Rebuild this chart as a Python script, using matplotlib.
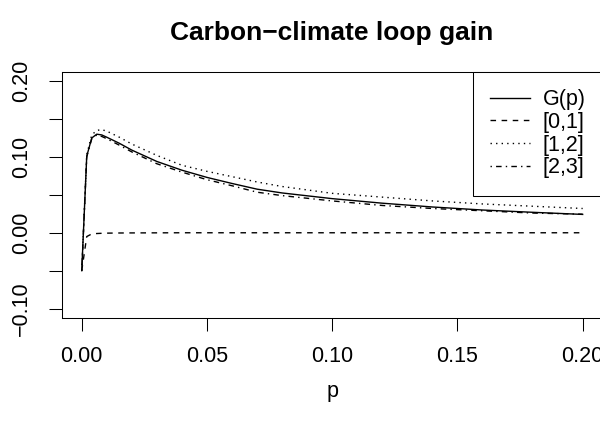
import matplotlib
matplotlib.use("Agg")
import matplotlib.pyplot as plt

plt.rcParams['font.family'] = ['Liberation Sans', 'DejaVu Sans']

# values
p = [0, 0.002, 0.004, 0.006, 0.008, 0.01, 0.015, 0.02, 0.03, 0.04, 0.05,
     0.06, 0.07, 0.08, 0.10, 0.12, 0.14, 0.16, 0.18, 0.20]
G = [-0.050, 0.101, 0.125, 0.130, 0.129, 0.126, 0.118, 0.109, 0.094, 0.0825, 0.073,
     0.065, 0.0575, 0.0525, 0.045, 0.039, 0.034, 0.030, 0.027, 0.0242]
g01 = [-0.050, -0.005, -0.0015, -0.001, -0.0007, -0.0005, -0.0003, -0.0002, -0.0001, 0.0, 0.0,
       0.0, 0.0, 0.0, 0.0, 0.0, 0.0, 0.0, 0.0, 0.0]
g12 = [-0.050, 0.103, 0.129, 0.135, 0.136, 0.134, 0.126, 0.117, 0.102, 0.089, 0.081,
       0.074, 0.067, 0.061, 0.052, 0.047, 0.042, 0.038, 0.035, 0.032]
g23 = [-0.050, 0.100, 0.124, 0.129, 0.127, 0.124, 0.1155, 0.1066, 0.091, 0.080, 0.070,
       0.062, 0.0535, 0.049, 0.042, 0.036, 0.032, 0.029, 0.026, 0.0245]

labels = ['G(p)', '[0,1]', '[1,2]', '[2,3]']
xticks = [0.00, 0.05, 0.10, 0.15, 0.20]
yticks = [-0.10, -0.05, 0.00, 0.05, 0.10, 0.15, 0.20]
ytick_labels = ['\u22120.10', '', '0.00', '', '0.10', '', '0.20']

fs = 15.5

fig = plt.figure(figsize=(6, 4.26), dpi=100)
ax = fig.add_axes([61.7/600, (426-317.7)/426, 541/600, 245.7/426])

lw = 1.0
ax.plot(p, G, color='black', lw=lw, label=labels[0])
ax.plot(p, g01, color='black', lw=lw, dashes=(4, 4), label=labels[1])
ax.plot(p, g12, color='black', lw=lw, dashes=(1, 3), label=labels[2])
ax.plot(p, g23, color='black', lw=lw, dashes=(1, 3, 4, 3), label=labels[3])

ax.set_xlim(-0.008, 0.208)
ax.set_ylim(-0.112, 0.212)
ax.set_xticks(xticks)
ax.set_xticklabels(['%.2f' % v for v in xticks], fontsize=fs)
ax.set_yticks(yticks)
ax.set_yticklabels(ytick_labels, fontsize=fs, rotation=90, va='center')
ax.tick_params(direction='out', length=9.3, width=0.75)
ax.tick_params(axis='x', pad=11)
ax.tick_params(axis='y', pad=12)

for s in ax.spines.values():
    s.set_linewidth(0.75)
    s.set_color('black')

ax.set_xlabel('p', fontsize=fs, labelpad=10)
fig.text(332/600, 1 - 33/426, 'Carbon\u2212climate loop gain', fontsize=19,
         fontweight='bold', ha='center', va='center')

leg = ax.legend(loc='upper right', bbox_to_anchor=(1, 1), borderaxespad=0,
                fancybox=False, framealpha=1, edgecolor='black', fontsize=fs,
                handlelength=1.85, handletextpad=0.6, labelspacing=0.08,
                borderpad=0.8)
leg.get_frame().set_linewidth(0.75)

fig.savefig('out.png', dpi=100)
